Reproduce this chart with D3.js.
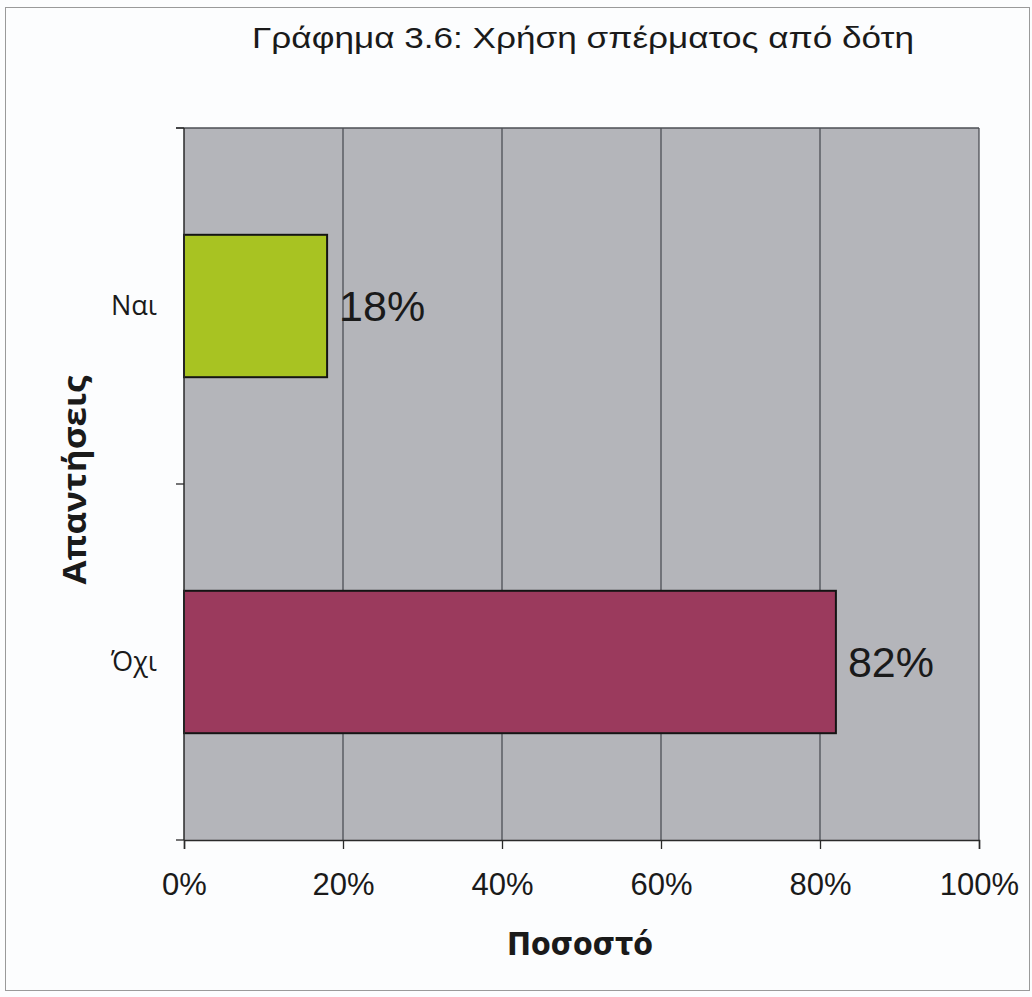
<!DOCTYPE html>
<html>
<head>
<meta charset="utf-8">
<script src="https://cdn.jsdelivr.net/npm/d3@7"></script>
<style>
  html, body { margin: 0; padding: 0; background: #fcfdfe; }
  svg { display: block; }
  text { font-family: "Liberation Sans", Arial, sans-serif; fill: #1a1a1a; }
</style>
</head>
<body>
<svg id="chart" width="1032" height="997"></svg>
<script>
// Responses to the question on donor sperm use
const categories = ["Ναι", "Όχι"];
const values = [18, 82];
const barColors = ["#a8c322", "#9b3a5d"];
const xTicks = [0, 20, 40, 60, 80, 100];
const titleText = "Γράφημα 3.6: Χρήση σπέρματος από δότη";
const xTitle = "Ποσοστό";
const yTitle = "Απαντήσεις";

const svg = d3.select("#chart");
const W = 1032, H = 997;
const plot = { left: 184, right: 979, top: 128, bottom: 840 };

// outer frame
svg.append("rect")
  .attr("x", 5.5).attr("y", 7.5)
  .attr("width", W - 8).attr("height", H - 14)
  .attr("fill", "none").attr("stroke", "#9a9a9a").attr("stroke-width", 1);

const x = d3.scaleLinear().domain([0, 100]).range([plot.left, plot.right]);
const y = d3.scaleBand().domain(categories).range([plot.top, plot.bottom]).paddingInner(0.6).paddingOuter(0.3);

// plot background
svg.append("rect")
  .attr("x", plot.left).attr("y", plot.top)
  .attr("width", plot.right - plot.left).attr("height", plot.bottom - plot.top)
  .attr("fill", "#b4b5ba");

// vertical gridlines
svg.append("g").selectAll("line")
  .data(xTicks.filter(d => d > 0))
  .join("line")
  .attr("x1", d => x(d)).attr("x2", d => x(d))
  .attr("y1", plot.top).attr("y2", plot.bottom)
  .attr("stroke", "#4d4f55").attr("stroke-width", 1.3);

// top border of plot area
svg.append("line")
  .attr("x1", plot.left - 8).attr("x2", plot.right)
  .attr("y1", plot.top).attr("y2", plot.top)
  .attr("stroke", "#4d4f55").attr("stroke-width", 1.3);

// bars
svg.append("g").selectAll("rect")
  .data(categories)
  .join("rect")
  .attr("x", x(0))
  .attr("y", d => y(d))
  .attr("width", (d, i) => x(values[i]) - x(0))
  .attr("height", y.bandwidth())
  .attr("fill", (d, i) => barColors[i])
  .attr("stroke", "#141414").attr("stroke-width", 2);

// value labels
svg.append("g").selectAll("text")
  .data(categories)
  .join("text")
  .attr("x", (d, i) => x(values[i]) + 12)
  .attr("y", d => y(d) + y.bandwidth() / 2 + 15)
  .attr("font-size", 43)
  .text((d, i) => values[i] + "%");

// x axis
const xAxis = d3.axisBottom(x).tickValues(xTicks).tickFormat(d => d + "%").tickSize(9).tickPadding(24);
const gx = svg.append("g").attr("transform", `translate(0,${plot.bottom})`).call(xAxis);
gx.select(".domain").attr("stroke", "#2a2a2a").attr("stroke-width", 1.5);
gx.selectAll(".tick line").attr("stroke", "#2a2a2a").attr("stroke-width", 1.3);
gx.selectAll(".tick text").attr("font-size", 31).attr("fill", "#1a1a1a");

// y axis: category labels, with tick marks on band boundaries
const yAxis = d3.axisLeft(y).tickSize(0).tickPadding(27);
const gy = svg.append("g").attr("transform", `translate(${plot.left},0)`).call(yAxis);
gy.select(".domain").remove();
gy.selectAll(".tick text")
  .attr("font-size", 27)
  .style("font-family", "'Open Sans', 'DejaVu Sans', sans-serif")
  .attr("fill", "#1a1a1a")
  .attr("dy", "0.33em");

svg.append("line")
  .attr("x1", plot.left).attr("x2", plot.left)
  .attr("y1", plot.top).attr("y2", plot.bottom)
  .attr("stroke", "#2a2a2a").attr("stroke-width", 1.5);
const bounds = [plot.top, (plot.top + plot.bottom) / 2, plot.bottom];
svg.append("g").selectAll("line")
  .data(bounds)
  .join("line")
  .attr("x1", plot.left - 8).attr("x2", plot.left)
  .attr("y1", d => d).attr("y2", d => d)
  .attr("stroke", "#2a2a2a").attr("stroke-width", 1.3);

// titles
svg.append("text")
  .attr("x", 252).attr("y", 48)
  .attr("font-size", 29)
  .attr("textLength", 662).attr("lengthAdjust", "spacingAndGlyphs")
  .text(titleText);

svg.append("text")
  .attr("x", 507).attr("y", 955)
  .attr("font-size", 32).attr("font-weight", "bold")
  .style("font-family", "'DejaVu Sans', sans-serif")
  .attr("textLength", 146).attr("lengthAdjust", "spacingAndGlyphs")
  .text(xTitle);

svg.append("text")
  .attr("transform", "translate(86,480) rotate(-90)")
  .attr("text-anchor", "middle")
  .attr("font-size", 33).attr("font-weight", "bold")
  .style("font-family", "'Open Sans', sans-serif")
  .attr("textLength", 209).attr("lengthAdjust", "spacingAndGlyphs")
  .text(yTitle);
</script>
</body>
</html>
